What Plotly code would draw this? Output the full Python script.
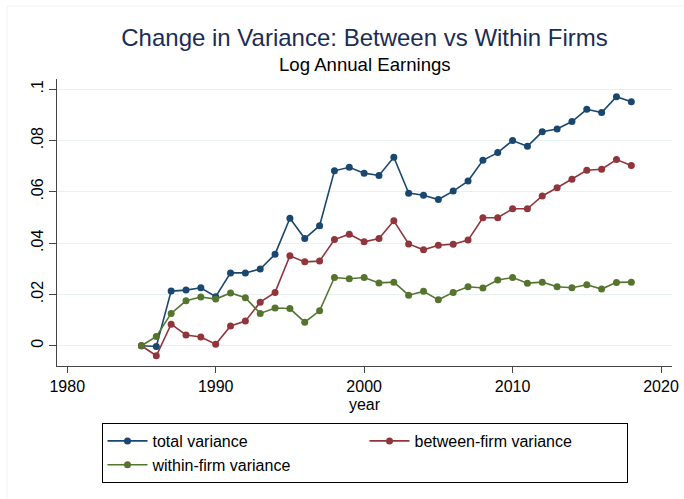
import plotly.graph_objects as go

years = [1985, 1986, 1987, 1988, 1989, 1990, 1991, 1992, 1993, 1994,
         1995, 1996, 1997, 1998, 1999, 2000, 2001, 2002, 2003, 2004,
         2005, 2006, 2007, 2008, 2009, 2010, 2011, 2012, 2013, 2014,
         2015, 2016, 2017, 2018]

total_variance = [0.0, -0.0003, 0.0213, 0.0217, 0.0226, 0.0191, 0.0284, 0.0284, 0.0299, 0.0357,
                  0.0497, 0.0418, 0.0468, 0.0682, 0.0696, 0.0673, 0.0664, 0.0735, 0.0595, 0.0587,
                  0.0570, 0.0603, 0.0642, 0.0723, 0.0753, 0.0800, 0.0778, 0.0834, 0.0845, 0.0874,
                  0.0922, 0.0909, 0.0971, 0.0951]

between_variance = [0.0, -0.0039, 0.0084, 0.0042, 0.0034, 0.0006, 0.0077, 0.0096, 0.0170, 0.0208,
                    0.0351, 0.0327, 0.0330, 0.0414, 0.0435, 0.0405, 0.0418, 0.0487, 0.0397, 0.0374,
                    0.0392, 0.0396, 0.0412, 0.0499, 0.0499, 0.0534, 0.0534, 0.0584, 0.0616, 0.0649,
                    0.0684, 0.0688, 0.0726, 0.0703]

within_variance = [0.0, 0.0036, 0.0126, 0.0175, 0.0190, 0.0182, 0.0206, 0.0187, 0.0126, 0.0147,
                   0.0145, 0.0092, 0.0136, 0.0266, 0.0261, 0.0266, 0.0245, 0.0248, 0.0197, 0.0212,
                   0.0179, 0.0208, 0.0230, 0.0225, 0.0256, 0.0266, 0.0244, 0.0248, 0.0230, 0.0226,
                   0.0238, 0.0221, 0.0247, 0.0248]

series_names = ["total variance", "between-firm variance", "within-firm variance"]
series_colors = ["#1a476f", "#90353b", "#55752f"]

x_tickvals = [1980, 1990, 2000, 2010, 2020]
y_tickvals = [0, 0.02, 0.04, 0.06, 0.08, 0.1]
y_ticktext = ["0", ".02", ".04", ".06", ".08", ".1"]

FONT = "Liberation Sans, Arial, Helvetica, sans-serif"

fig = go.Figure()
for name, vals, col in zip(series_names,
                           [total_variance, between_variance, within_variance],
                           series_colors):
    fig.add_trace(go.Scatter(
        x=years, y=vals, name=name, mode="lines+markers",
        line=dict(color=col, width=1.6),
        marker=dict(color=col, size=7, symbol="circle"),
    ))

fig.update_layout(
    width=684, height=499,
    margin=dict(l=57, r=12, t=79, b=133, autoexpand=False),
    paper_bgcolor="white", plot_bgcolor="white",
    font=dict(family=FONT, size=16, color="black"),
    title=dict(text="Change in Variance: Between vs Within Firms",
               x=0.5, xref="paper", xanchor="center",
               y=1 - 38 / 499, yref="container", yanchor="middle",
               font=dict(size=24, color="#1c2d54", family=FONT)),
    showlegend=True,
    legend=dict(orientation="h", x=0.5, xanchor="center",
                y=(366 - 423) / 287, yanchor="top",
                bordercolor="black", borderwidth=1,
                entrywidth=207, font=dict(size=16, family=FONT),
                traceorder="normal", itemwidth=40, tracegroupgap=0),
    xaxis=dict(range=[1979.31, 2020.74], tickvals=x_tickvals,
               showgrid=False, zeroline=False, automargin=False,
               showline=True, linecolor="#444", linewidth=1.2,
               ticks="outside", ticklen=6, tickcolor="#444", tickwidth=1.2,
               tickfont=dict(size=16, family=FONT),
               title=dict(text="year", font=dict(size=16, family=FONT), standoff=4)),
    yaxis=dict(range=[-0.0079, 0.104], tickvals=y_tickvals, ticktext=y_ticktext,
               tickangle=-90, automargin=False,
               showgrid=True, gridcolor="#e9f0f2", gridwidth=1,
               zeroline=False,
               showline=True, linecolor="#444", linewidth=1.2,
               ticks="outside", ticklen=7, tickcolor="#444", tickwidth=1.2,
               tickfont=dict(size=16, family=FONT)),
    annotations=[dict(text="Log Annual Earnings", x=0.5, xref="paper", xanchor="center",
                      y=(366 - 65) / 287, yref="paper", yanchor="middle",
                      showarrow=False, font=dict(size=18.6, color="black", family=FONT))],
    shapes=[
        dict(type="line", xref="paper", yref="paper",
             x0=(7 - 57) / 615, x1=(7 - 57) / 615, y0=-0.5, y1=(366 - 6) / 287,
             line=dict(color="#eef2f4", width=1)),
        dict(type="line", xref="paper", yref="paper",
             x0=(7 - 57) / 615, x1=1.1, y0=(366 - 6) / 287, y1=(366 - 6) / 287,
             line=dict(color="#eef2f4", width=1)),
    ],
)

fig.write_html("out.html", config={"displayModeBar": False},
               post_script="document.body.style.margin='0';document.body.style.overflow='hidden';")
